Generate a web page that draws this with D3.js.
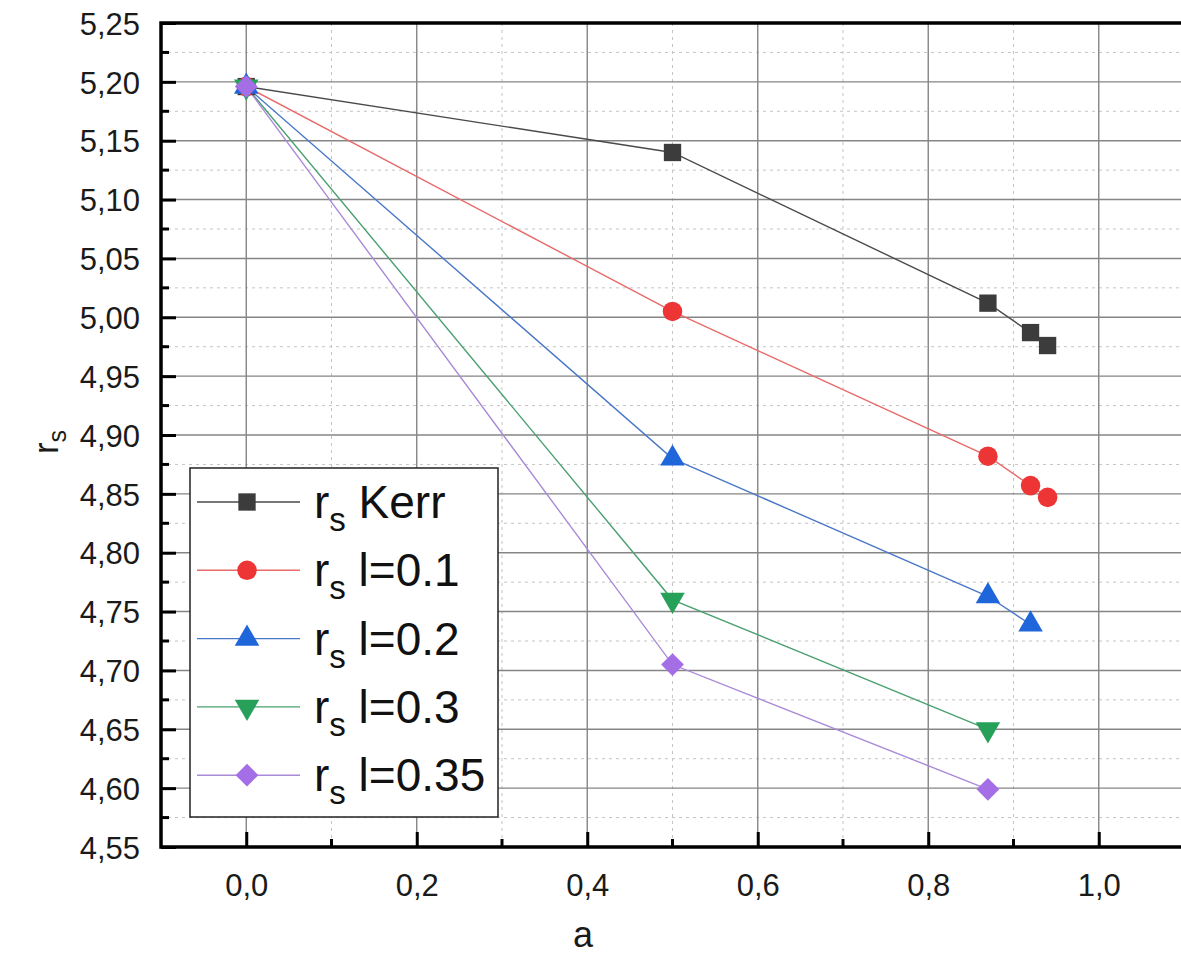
<!DOCTYPE html>
<html>
<head>
<meta charset="utf-8">
<script src="https://cdn.jsdelivr.net/npm/d3@7"></script>
<style>
  html, body { margin: 0; padding: 0; background: #fff; }
  svg { display: block; font-family: Arial, "Liberation Sans", sans-serif; }
</style>
</head>
<body>
<svg id="chart" width="1181" height="961"></svg>
<script>
// Spin parameter a and r_s values for each model
const aKerr = [0, 0.5, 0.87, 0.92, 0.94];
const rsKerr = [5.196, 5.140, 5.012, 4.987, 4.976];
const aL01 = [0, 0.5, 0.87, 0.92, 0.94];
const rsL01 = [5.196, 5.005, 4.882, 4.857, 4.847];
const aL02 = [0, 0.5, 0.87, 0.92];
const rsL02 = [5.196, 4.880, 4.763, 4.739];
const aL03 = [0, 0.5, 0.87];
const rsL03 = [5.196, 4.760, 4.650];
const aL035 = [0, 0.5, 0.87];
const rsL035 = [5.196, 4.705, 4.599];

const seriesNames = ["Kerr", "l=0.1", "l=0.2", "l=0.3", "l=0.35"];
const xTickValues = [0, 0.2, 0.4, 0.6, 0.8, 1.0];
const yTickValues = [4.55, 4.60, 4.65, 4.70, 4.75, 4.80, 4.85, 4.90, 4.95, 5.00, 5.05, 5.10, 5.15, 5.20, 5.25];

const series = [
  { name: seriesNames[0], a: aKerr, rs: rsKerr, line: "#4a4a4a", fill: "#3c3c3c", symbol: d3.symbolSquare, size: 300, rot: 0 },
  { name: seriesNames[1], a: aL01, rs: rsL01, line: "#e86a6a", fill: "#ee3535", symbol: d3.symbolCircle, size: 300, rot: 0 },
  { name: seriesNames[2], a: aL02, rs: rsL02, line: "#4a78c8", fill: "#1f66da", symbol: d3.symbolTriangle, size: 260, rot: 0 },
  { name: seriesNames[3], a: aL03, rs: rsL03, line: "#4aa070", fill: "#27a05a", symbol: d3.symbolTriangle, size: 260, rot: 180 },
  { name: seriesNames[4], a: aL035, rs: rsL035, line: "#a98ad8", fill: "#a46ee6", symbol: d3.symbolDiamond2, size: 330, rot: 0 }
];

const svg = d3.select("#chart");
const plotL = 161, plotR = 1184, plotT = 23, plotB = 847;

const x = d3.scaleLinear().domain([-0.1, 1.1]).range([plotL, plotR]);
const y = d3.scaleLinear().domain([4.55, 5.25]).range([plotB, plotT]);

// Grid: minor dashed, major solid
const xMinor = d3.range(-0.1, 1.11, 0.2).map(v => +v.toFixed(2));
const yMinor = d3.range(4.575, 5.25, 0.05).map(v => +v.toFixed(3));

const grid = svg.append("g");
grid.selectAll(".xm").data(xMinor).join("line")
  .attr("x1", d => x(d)).attr("x2", d => x(d)).attr("y1", plotT).attr("y2", plotB)
  .attr("stroke", "#c4c4c4").attr("stroke-width", 1).attr("stroke-dasharray", "3,4");
grid.selectAll(".ym").data(yMinor).join("line")
  .attr("x1", plotL).attr("x2", plotR).attr("y1", d => y(d)).attr("y2", d => y(d))
  .attr("stroke", "#c4c4c4").attr("stroke-width", 1).attr("stroke-dasharray", "3,4");
grid.selectAll(".xM").data(xTickValues).join("line")
  .attr("x1", d => x(d)).attr("x2", d => x(d)).attr("y1", plotT).attr("y2", plotB)
  .attr("stroke", "#858585").attr("stroke-width", 1.4);
grid.selectAll(".yM").data(yTickValues.slice(1, -1)).join("line")
  .attr("x1", plotL).attr("x2", plotR).attr("y1", d => y(d)).attr("y2", d => y(d))
  .attr("stroke", "#858585").attr("stroke-width", 1.4);

// Lines
const lineGen = d3.line().x(d => x(d[0])).y(d => y(d[1]));
series.forEach(s => {
  const pts = s.a.map((a, i) => [a, s.rs[i]]);
  svg.append("path").datum(pts).attr("d", lineGen)
    .attr("fill", "none").attr("stroke", s.line).attr("stroke-width", 1.4);
});

// Markers (drawn in series order so later ones sit on top)
series.forEach(s => {
  const pts = s.a.map((a, i) => [a, s.rs[i]]);
  svg.append("g").selectAll("path").data(pts).join("path")
    .attr("d", d3.symbol().type(s.symbol).size(s.size))
    .attr("transform", d => `translate(${x(d[0])},${y(d[1])}) rotate(${s.rot})`)
    .attr("fill", s.fill);
});

// Axes with inward ticks
const yAxis = d3.axisLeft(y).tickValues(yTickValues).tickSize(-15).tickPadding(21)
  .tickFormat(d => d3.format(".2f")(d).replace(".", ","));
const gy = svg.append("g").attr("transform", `translate(${plotL},0)`).call(yAxis);
const xAxis = d3.axisBottom(x).tickValues(xTickValues).tickSize(-15).tickPadding(26)
  .tickFormat(d => d3.format(".1f")(d).replace(".", ","));
const gx = svg.append("g").attr("transform", `translate(0,${plotB})`).call(xAxis);
[gx, gy].forEach(g => {
  g.select(".domain").remove();
  g.selectAll(".tick line").attr("stroke", "#000").attr("stroke-width", 3);
  g.selectAll(".tick text").attr("font-size", 31).attr("fill", "#1a1a1a");
});
gy.selectAll(".tick text").attr("dy", "0.36em");
gx.selectAll(".tick text").attr("dy", "0.75em");

// Minor ticks
svg.append("g").selectAll("line").data(yMinor).join("line")
  .attr("x1", plotL).attr("x2", plotL + 8).attr("y1", d => y(d)).attr("y2", d => y(d))
  .attr("stroke", "#000").attr("stroke-width", 3);
svg.append("g").selectAll("line").data(xMinor.filter(v => v > -0.1 && v < 1.1)).join("line")
  .attr("x1", d => x(d)).attr("x2", d => x(d)).attr("y1", plotB).attr("y2", plotB - 8)
  .attr("stroke", "#000").attr("stroke-width", 3);

// Frame
svg.append("path")
  .attr("d", `M${plotR},${plotT}H${plotL}V${plotB}H${plotR}`)
  .attr("fill", "none").attr("stroke", "#000").attr("stroke-width", 3.5);

// Axis titles
const yt = svg.append("text").attr("transform", "translate(58,442) rotate(-90)")
  .attr("text-anchor", "middle").attr("font-size", 35).attr("fill", "#1a1a1a");
yt.append("tspan").text("r");
yt.append("tspan").attr("font-size", 25).attr("dy", 8).text("s");
svg.append("text").attr("x", 583).attr("y", 947).attr("text-anchor", "middle")
  .attr("font-size", 36).attr("fill", "#1a1a1a").text("a");

// Legend
const lg = svg.append("g");
lg.append("rect").attr("x", 190).attr("y", 468).attr("width", 308).attr("height", 349)
  .attr("fill", "#fff").attr("stroke", "#222").attr("stroke-width", 1.5);
series.forEach((s, i) => {
  const cy = 502 + i * 68.3;
  lg.append("line").attr("x1", 197).attr("x2", 300).attr("y1", cy).attr("y2", cy)
    .attr("stroke", s.line).attr("stroke-width", 1.4);
  lg.append("path").attr("d", d3.symbol().type(s.symbol).size(s.size))
    .attr("transform", `translate(247,${cy}) rotate(${s.rot})`).attr("fill", s.fill);
  const t = lg.append("text").attr("x", 314).attr("y", cy + 16)
    .attr("font-size", 46).attr("fill", "#111");
  t.append("tspan").text("r");
  t.append("tspan").attr("font-size", 33).attr("dy", 13).text("s");
  t.append("tspan").attr("dy", -13).text(" " + s.name);
});
</script>
</body>
</html>
